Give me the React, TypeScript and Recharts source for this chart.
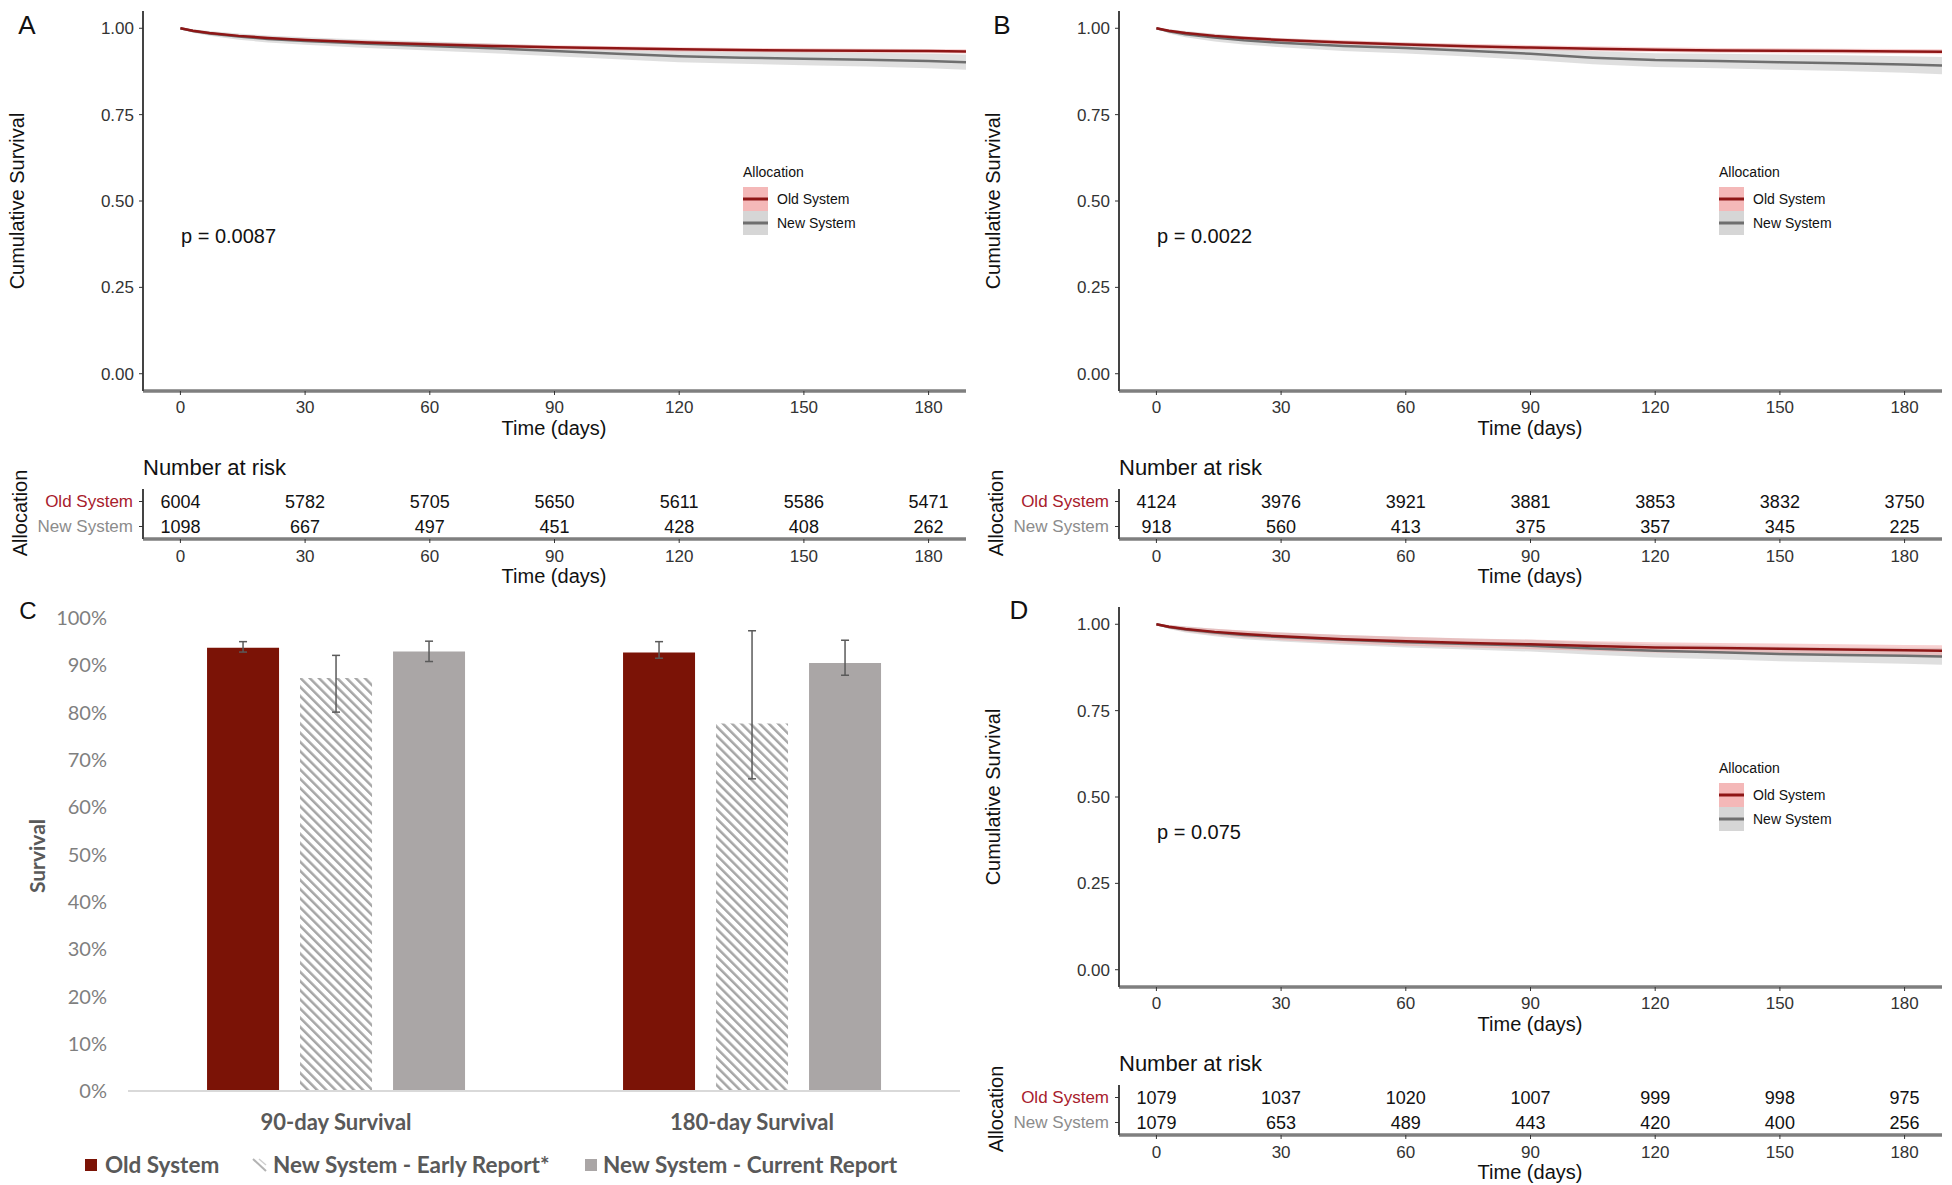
import React from 'react'
import {
  Area,
  Bar,
  BarChart,
  ComposedChart,
  ErrorBar,
  Line,
  Scatter,
  ScatterChart,
  XAxis,
  YAxis,
} from 'recharts'

const ARIAL = '"Liberation Sans", Arial, sans-serif'
const CALIBRI = 'Lato, "Open Sans", sans-serif'

const OLD_LINE = '#8e1616'
const OLD_BAND = '#ef9a9a'
const NEW_LINE = '#6f6f6f'
const NEW_BAND = '#c4c4c4'

// Kaplan-Meier curves
const kmTimes = [0, 3, 7, 14, 21, 30, 45, 60, 75, 90, 105, 120, 135, 150, 165, 180, 189]

const aOld = [1, 0.993, 0.986, 0.978, 0.972, 0.966, 0.959, 0.954, 0.949, 0.945, 0.942, 0.939, 0.937, 0.936, 0.935, 0.934, 0.933]
const aOldLo = [1, 0.991, 0.983, 0.974, 0.968, 0.962, 0.954, 0.949, 0.943, 0.939, 0.936, 0.933, 0.931, 0.93, 0.929, 0.928, 0.927]
const aOldHi = [1, 0.995, 0.989, 0.982, 0.976, 0.97, 0.964, 0.959, 0.955, 0.951, 0.948, 0.945, 0.943, 0.942, 0.941, 0.94, 0.939]
const aNew = [1, 0.992, 0.985, 0.976, 0.969, 0.963, 0.955, 0.949, 0.942, 0.934, 0.926, 0.919, 0.915, 0.912, 0.909, 0.905, 0.902]
const aNewLo = [1, 0.987, 0.978, 0.967, 0.959, 0.952, 0.943, 0.936, 0.928, 0.919, 0.91, 0.902, 0.897, 0.893, 0.889, 0.884, 0.88]
const aNewHi = [1, 0.997, 0.992, 0.985, 0.979, 0.974, 0.967, 0.962, 0.956, 0.949, 0.942, 0.936, 0.933, 0.931, 0.929, 0.926, 0.924]

const bOld = [1, 0.993, 0.986, 0.978, 0.972, 0.966, 0.959, 0.953, 0.948, 0.944, 0.941, 0.938, 0.936, 0.935, 0.934, 0.933, 0.932]
const bOldLo = [1, 0.99, 0.982, 0.973, 0.967, 0.961, 0.953, 0.947, 0.941, 0.937, 0.934, 0.931, 0.929, 0.928, 0.927, 0.926, 0.925]
const bOldHi = [1, 0.996, 0.99, 0.983, 0.977, 0.971, 0.965, 0.959, 0.955, 0.951, 0.948, 0.945, 0.943, 0.942, 0.941, 0.94, 0.939]
const bNew = [1, 0.991, 0.983, 0.973, 0.965, 0.958, 0.949, 0.943, 0.935, 0.926, 0.915, 0.908, 0.905, 0.902, 0.899, 0.895, 0.892]
const bNewLo = [1, 0.985, 0.974, 0.962, 0.953, 0.945, 0.934, 0.927, 0.918, 0.908, 0.896, 0.888, 0.884, 0.88, 0.876, 0.871, 0.867]
const bNewHi = [1, 0.997, 0.992, 0.984, 0.977, 0.971, 0.964, 0.959, 0.952, 0.944, 0.934, 0.928, 0.926, 0.924, 0.922, 0.919, 0.917]

const dOld = [1, 0.993, 0.986, 0.978, 0.972, 0.965, 0.957, 0.951, 0.946, 0.942, 0.937, 0.933, 0.931, 0.929, 0.927, 0.925, 0.923]
const dOldLo = [1, 0.988, 0.979, 0.969, 0.962, 0.954, 0.945, 0.938, 0.933, 0.928, 0.923, 0.918, 0.916, 0.914, 0.912, 0.91, 0.907]
const dOldHi = [1, 0.998, 0.993, 0.987, 0.982, 0.976, 0.969, 0.964, 0.959, 0.956, 0.951, 0.948, 0.946, 0.944, 0.942, 0.94, 0.939]
const dNew = [1, 0.992, 0.985, 0.976, 0.969, 0.963, 0.955, 0.948, 0.943, 0.938, 0.93, 0.923, 0.919, 0.914, 0.911, 0.909, 0.907]
const dNewLo = [1, 0.986, 0.976, 0.965, 0.957, 0.95, 0.941, 0.933, 0.927, 0.921, 0.912, 0.904, 0.899, 0.893, 0.889, 0.886, 0.883]
const dNewHi = [1, 0.998, 0.994, 0.987, 0.981, 0.976, 0.969, 0.963, 0.959, 0.955, 0.948, 0.942, 0.939, 0.935, 0.933, 0.932, 0.931]

// number at risk
const riskDays = [0, 30, 60, 90, 120, 150, 180]
const aRiskOld = [6004, 5782, 5705, 5650, 5611, 5586, 5471]
const aRiskNew = [1098, 667, 497, 451, 428, 408, 262]
const bRiskOld = [4124, 3976, 3921, 3881, 3853, 3832, 3750]
const bRiskNew = [918, 560, 413, 375, 357, 345, 225]
const dRiskOld = [1079, 1037, 1020, 1007, 999, 998, 975]
const dRiskNew = [1079, 653, 489, 443, 420, 400, 256]

const survTicks = [0, 0.25, 0.5, 0.75, 1]

// panel C
const survCategories = ['90-day Survival', '180-day Survival']
const oldSurv = [93.7, 92.7]
const oldErr = [[0.9, 1.3], [1.2, 2.3]]
const earlySurv = [87.3, 77.7]
const earlyErr = [[7.2, 4.8], [11.7, 19.6]]
const currentSurv = [92.9, 90.5]
const currentErr = [[2.1, 2.2], [2.6, 4.8]]
const pctTicks = [0, 10, 20, 30, 40, 50, 60, 70, 80, 90, 100]

function kmData(old: number[], oldLo: number[], oldHi: number[], neu: number[], neuLo: number[], neuHi: number[]) {
  return kmTimes.map((t, i) => ({
    t,
    old: old[i],
    oldBand: [oldLo[i], oldHi[i]],
    neu: neu[i],
    neuBand: [neuLo[i], neuHi[i]],
  }))
}

function riskData(old: number[], neu: number[]) {
  return [
    ...riskDays.map((t, i) => ({ t, row: 1, n: old[i] })),
    ...riskDays.map((t, i) => ({ t, row: 0, n: neu[i] })),
  ]
}

function Txt({ x, y, children, size, color = '#111', anchor = 'middle', rotate = 0, weight = 400, family = ARIAL }: any) {
  const tx = anchor === 'middle' ? '-50%' : anchor === 'end' ? '-100%' : '0'
  return (
    <div
      style={{
        position: 'absolute',
        left: x,
        top: y,
        transform: `translate(${tx}, -50%) rotate(${rotate}deg)`,
        fontFamily: family,
        fontSize: size,
        fontWeight: weight,
        color,
        whiteSpace: 'nowrap',
        lineHeight: 1,
      }}
    >
      {children}
    </div>
  )
}

function KeySwatch({ band, line }: { band: string; line: string }) {
  return (
    <svg width={25} height={24} style={{ display: 'block' }}>
      <rect x={0} y={0} width={25} height={24} fill={band} fillOpacity={0.7} />
      <line x1={0} x2={25} y1={12} y2={12} stroke={line} strokeWidth={3} />
    </svg>
  )
}

function RowTick({ x, y, payload }: any) {
  const isOld = payload.value === 1
  return (
    <text
      x={x}
      y={y}
      textAnchor="end"
      dominantBaseline="central"
      fontFamily={ARIAL}
      fontSize={17}
      fill={isOld ? '#a8202c' : '#8c8c8c'}
    >
      {isOld ? 'Old System' : 'New System'}
    </text>
  )
}

function RiskCell(props: any) {
  return (
    <text
      x={props.cx}
      y={props.cy}
      textAnchor="middle"
      dominantBaseline="central"
      fontFamily={ARIAL}
      fontSize={18}
      fill="#111"
    >
      {props.payload.n}
    </text>
  )
}

const xAxisLine = { stroke: '#7f7f7f', strokeWidth: 3.5 }
const yAxisLine = { stroke: '#444', strokeWidth: 2 }
const tickStyle = { fontSize: 17, fill: '#333', fontFamily: ARIAL }

function KMPanel({ left, top, letter, letterX, letterY, data, pValue, risk }: any) {
  return (
    <div style={{ position: 'absolute', left, top, width: 976, height: 590 }}>
      <ComposedChart width={976} height={440} data={data} margin={{ top: 11, right: 10, bottom: 0, left: 0 }}>
        <XAxis
          type="number"
          dataKey="t"
          domain={[-9, 189]}
          ticks={riskDays}
          interval={0}
          height={49}
          tickSize={4}
          tickMargin={6}
          tick={tickStyle}
          axisLine={xAxisLine}
          tickLine={{ stroke: '#333' }}
        />
        <YAxis
          type="number"
          domain={[-0.05, 1.05]}
          ticks={survTicks}
          interval={0}
          width={143}
          tickSize={4}
          tickMargin={5}
          tickFormatter={(v: number) => v.toFixed(2)}
          tick={tickStyle}
          axisLine={yAxisLine}
          tickLine={{ stroke: '#333' }}
        />
        <Area type="linear" dataKey="neuBand" fill={NEW_BAND} fillOpacity={0.55} stroke="none" isAnimationActive={false} />
        <Area type="linear" dataKey="oldBand" fill={OLD_BAND} fillOpacity={0.45} stroke="none" isAnimationActive={false} />
        <Line type="linear" dataKey="neu" stroke={NEW_LINE} strokeWidth={2.5} dot={false} isAnimationActive={false} />
        <Line type="linear" dataKey="old" stroke={OLD_LINE} strokeWidth={2.5} dot={false} isAnimationActive={false} />
      </ComposedChart>

      <div style={{ position: 'absolute', left: 0, top: 440 }}>
        <ScatterChart width={976} height={145} margin={{ top: 49, right: 10, bottom: 0, left: 0 }}>
          <XAxis
            type="number"
            dataKey="t"
            domain={[-9, 189]}
            ticks={riskDays}
            interval={0}
            height={46}
            tickSize={4}
            tickMargin={7}
            tick={tickStyle}
            axisLine={xAxisLine}
            tickLine={{ stroke: '#333' }}
          />
          <YAxis
            type="number"
            dataKey="row"
            domain={[-0.5, 1.5]}
            ticks={[0, 1]}
            interval={0}
            width={143}
            tickSize={4}
            tickMargin={6}
            tick={<RowTick />}
            axisLine={yAxisLine}
            tickLine={{ stroke: '#333' }}
          />
          <Scatter data={risk} shape={RiskCell} isAnimationActive={false} />
        </ScatterChart>
      </div>

      <Txt x={letterX} y={letterY} size={26}>{letter}</Txt>
      <Txt x={17} y={201} size={20} rotate={-90}>Cumulative Survival</Txt>
      <Txt x={554} y={428} size={20}>Time (days)</Txt>
      <Txt x={181} y={236} size={20} anchor="start">{pValue}</Txt>

      <Txt x={743} y={172} size={14} anchor="start">Allocation</Txt>
      <div style={{ position: 'absolute', left: 743, top: 187 }}>
        <KeySwatch band={OLD_BAND} line={OLD_LINE} />
        <KeySwatch band={NEW_BAND} line={NEW_LINE} />
      </div>
      <Txt x={777} y={199} size={14} anchor="start">Old System</Txt>
      <Txt x={777} y={223} size={14} anchor="start">New System</Txt>

      <Txt x={143} y={468} size={22} anchor="start">Number at risk</Txt>
      <Txt x={20} y={513} size={20} rotate={-90}>Allocation</Txt>
      <Txt x={554} y={576} size={20}>Time (days)</Txt>
    </div>
  )
}

function CategoryTick({ x, y, payload }: any) {
  return (
    <text x={x} y={y} dy={31} textAnchor="middle" fill="#595959" fontFamily={CALIBRI} fontSize={22} fontWeight={700}>
      {payload.value}
    </text>
  )
}

function BarPanel() {
  const data = survCategories.map((c, i) => ({
    c,
    old: oldSurv[i],
    oldErr: oldErr[i],
    early: earlySurv[i],
    earlyErr: earlyErr[i],
    current: currentSurv[i],
    currentErr: currentErr[i],
  }))
  const errStyle = { stroke: '#5a5a5a', strokeWidth: 1.5 }
  const legendText = { size: 22.5, color: '#595959', weight: 700, family: CALIBRI, anchor: 'start' }
  return (
    <div style={{ position: 'absolute', left: 0, top: 600, width: 980, height: 585 }}>
      <BarChart
        width={980}
        height={585}
        data={data}
        margin={{ top: 18, right: 20, bottom: 0, left: 0 }}
        barCategoryGap="19%"
        barGap={21}
      >
        <defs>
          <pattern id="hatch" patternUnits="userSpaceOnUse" width={6.5} height={6.5} patternTransform="rotate(-45)">
            <rect width={6.5} height={6.5} fill="#fff" />
            <line x1={0} y1={0} x2={0} y2={6.5} stroke="#a6a6a6" strokeWidth={5} />
          </pattern>
        </defs>
        <XAxis
          dataKey="c"
          height={94}
          tickLine={false}
          axisLine={{ stroke: '#d9d9d9', strokeWidth: 2 }}
          tick={<CategoryTick />}
        />
        <YAxis
          domain={[0, 100]}
          ticks={pctTicks}
          interval={0}
          width={128}
          tickMargin={15}
          axisLine={false}
          tickLine={false}
          tickFormatter={(v: number) => `${v}%`}
          tick={{ fill: '#7f7f7f', fontSize: 20, fontFamily: CALIBRI }}
        />
        <Bar dataKey="old" fill="#7b1306" isAnimationActive={false}>
          <ErrorBar dataKey="oldErr" width={4} {...errStyle} />
        </Bar>
        <Bar dataKey="early" fill="url(#hatch)" isAnimationActive={false}>
          <ErrorBar dataKey="earlyErr" width={4} {...errStyle} />
        </Bar>
        <Bar dataKey="current" fill="#aaa6a6" isAnimationActive={false}>
          <ErrorBar dataKey="currentErr" width={4} {...errStyle} />
        </Bar>
      </BarChart>

      <Txt x={28} y={11} size={24}>C</Txt>
      <Txt x={36} y={256} size={21} rotate={-90} color="#595959" weight={700} family={CALIBRI}>Survival</Txt>

      <div style={{ position: 'absolute', left: 85, top: 559, width: 12, height: 12, background: '#7b1306' }} />
      <Txt x={105} y={565} {...legendText}>Old System</Txt>
      <svg style={{ position: 'absolute', left: 252, top: 558 }} width={15} height={14}>
        <line x1={1} y1={1} x2={14} y2={13} stroke="#b3b3b3" strokeWidth={2} />
        <line x1={7} y1={1} x2={14} y2={7} stroke="#cfcfcf" strokeWidth={1.5} />
      </svg>
      <Txt x={273} y={565} {...legendText}>New System - Early Report*</Txt>
      <div style={{ position: 'absolute', left: 585, top: 559, width: 12, height: 12, background: '#aaa6a6' }} />
      <Txt x={603} y={565} {...legendText}>New System - Current  Report</Txt>
    </div>
  )
}

export default function App() {
  const dataA = kmData(aOld, aOldLo, aOldHi, aNew, aNewLo, aNewHi)
  const dataB = kmData(bOld, bOldLo, bOldHi, bNew, bNewLo, bNewHi)
  const dataD = kmData(dOld, dOldLo, dOldHi, dNew, dNewLo, dNewHi)
  return (
    <div
      style={{
        position: 'absolute',
        left: 0,
        top: 0,
        width: 1952,
        height: 1185,
        overflow: 'hidden',
        background: '#fff',
        whiteSpace: 'pre',
      }}
    >
      <KMPanel left={0} top={0} letter="A" letterX={27} letterY={25} data={dataA} pValue="p = 0.0087" risk={riskData(aRiskOld, aRiskNew)} />
      <KMPanel left={976} top={0} letter="B" letterX={26} letterY={25} data={dataB} pValue="p = 0.0022" risk={riskData(bRiskOld, bRiskNew)} />
      <BarPanel />
      <KMPanel left={976} top={596} letter="D" letterX={43} letterY={14} data={dataD} pValue="p = 0.075" risk={riskData(dRiskOld, dRiskNew)} />
    </div>
  )
}
